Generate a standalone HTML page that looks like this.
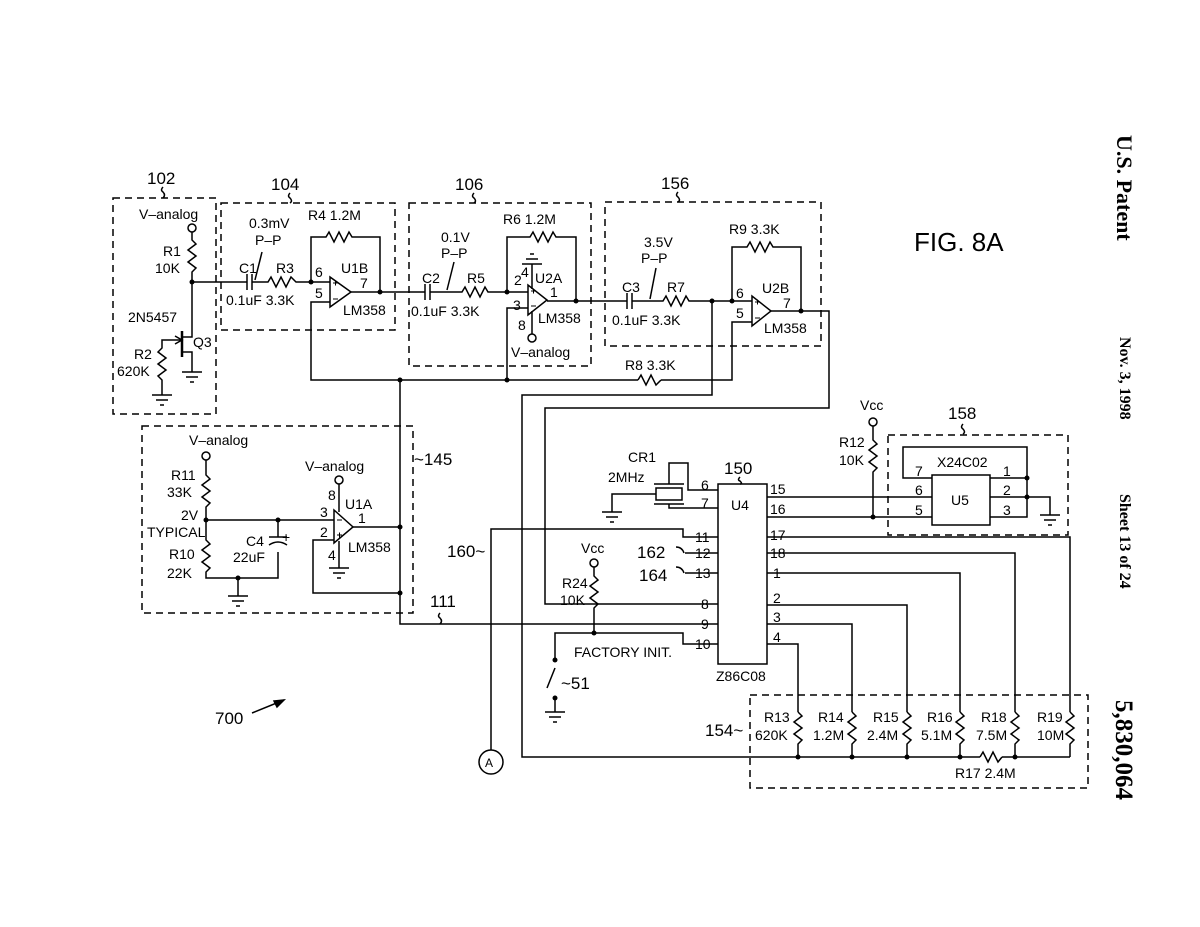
<!DOCTYPE html>
<html><head><meta charset="utf-8"><style>
html,body{margin:0;padding:0;background:#fff;}
svg{display:block;}
text{font-family:"Liberation Sans",sans-serif;font-size:14px;fill:#000;}
.b{font-size:17px;}
.p{font-size:10px;}
.s{font-family:"Liberation Serif",serif;font-weight:bold;}
</style></head><body>
<svg width="1200" height="927" viewBox="0 0 1200 927" xmlns="http://www.w3.org/2000/svg">
<g fill="none" stroke="#000" stroke-width="1.5">
<g stroke-dasharray="7,5">
<rect x="113" y="198" width="103" height="216"/>
<rect x="221" y="203" width="174" height="127"/>
<rect x="409" y="203" width="182" height="163"/>
<rect x="605" y="202" width="216" height="144"/>
<rect x="142" y="426" width="271" height="187"/>
<rect x="888" y="435" width="180" height="100"/>
<rect x="750" y="695" width="338" height="93"/>
</g>
<circle cx="192" cy="228" r="4"/>
<polyline points="192,232 192,240 196,244 188,250 196,256 188,262 196,268 192,272 192,337 182,337"/>
<line x1="182" y1="331" x2="182" y2="357" stroke-width="2.5"/>
<polyline points="182,352 192,352 192,372"/>
<polyline points="162,395 162,380 158,376 166,370 158,364 166,358 158,352 162,348 162,340 182,340"/>
<polyline points="175,336 182,340 175,344"/>
<path d="M182,372h20M186,377h12M190,382h4"/>
<path d="M152,395h20M156,400h12M160,405h4"/>
<line x1="192" y1="282" x2="247" y2="282"/>
<path d="M247,274v16M252,274v16"/>
<polyline points="252,282 268,282 271,277 276,287 281,277 286,287 291,277 296,282 330,282"/>
<line x1="255" y1="280" x2="262" y2="252"/>
<polygon points="330,277 330,307 351,292"/>
<polyline points="311,282 311,237 326,237 329,232 334,242 339,232 344,242 349,232 352,237 380,237 380,292"/>
<polyline points="330,302 311,302 311,380 638,380"/>
<polyline points="661,380 732,380 732,322 752,322"/>
<polyline points="638,380 641,375 646,385 651,375 656,385 661,380"/>
<line x1="351" y1="292" x2="425" y2="292"/>
<path d="M425,284v16M430,284v16"/>
<polyline points="430,292 462,292 465,287 470,297 475,287 480,297 485,287 488,292 528,292"/>
<line x1="447" y1="290" x2="454" y2="262"/>
<polygon points="528,285 528,315 547,300"/>
<polyline points="507,292 507,237 530,237 533,232 538,242 543,232 548,242 553,232 556,237 576,237 576,301"/>
<polyline points="528,308 507,308 507,380"/>
<polyline points="532,289 532,264"/>
<path d="M522,264h20M526,259h12M530,254h4"/>
<line x1="532" y1="311" x2="532" y2="334"/>
<circle cx="532" cy="338" r="4"/>
<polyline points="547,301 627,301"/>
<path d="M627,293v16M632,293v16"/>
<polyline points="632,301 663,301 666,296 671,306 676,296 681,306 686,296 689,301 752,301"/>
<line x1="650" y1="299" x2="656" y2="268"/>
<polygon points="752,296 752,326 771,311"/>
<polyline points="732,301 732,247 747,247 750,242 755,252 760,242 765,252 770,242 773,247 801,247 801,311"/>
<polyline points="771,311 829,311 829,408 545,408 545,604 718,604"/>
<polyline points="712,301 712,395 522,395 522,757 1070,757"/>
<circle cx="206" cy="456" r="4"/>
<polyline points="206,460 206,475 210,479 202,485 210,491 202,497 210,503 206,507 206,540 210,544 202,550 210,556 202,562 210,568 206,572 206,578 278,578 278,552"/>
<path d="M269,545q9,-6 18,0" />
<line x1="269" y1="537" x2="287" y2="537"/>
<polyline points="206,520 334,520"/>
<line x1="278" y1="520" x2="278" y2="537"/>
<line x1="238" y1="578" x2="238" y2="596"/>
<path d="M228,596h20M232,601h12M236,606h4"/>
<polygon points="334,510 334,543 353,527"/>
<line x1="339" y1="512" x2="339" y2="484"/>
<circle cx="339" cy="480" r="4"/>
<line x1="339" y1="541" x2="339" y2="568"/>
<path d="M329,568h20M333,573h12M337,578h4"/>
<polyline points="334,540 313,540 313,593 400,593"/>
<polyline points="353,527 400,527"/>
<polyline points="400,380 400,624 718,624"/>
<rect x="718" y="484" width="49" height="180"/>
<rect x="656" y="488" width="26" height="12"/>
<path d="M654,484h30M654,504h30"/>
<polyline points="669,484 669,463 688,463 688,490 718,490"/>
<polyline points="669,504 669,508 718,508"/>
<polyline points="656,494 612,494 612,512"/>
<path d="M602,512h20M606,517h12M610,522h4"/>
<polyline points="718,537 683,537 683,529 491,529 491,750"/>
<circle cx="491" cy="762" r="12"/>
<polyline points="685,553 718,553"/>
<polyline points="685,573 718,573"/>
<path d="M676,547q6,0 8,6M676,567q6,0 8,6"/>
<polyline points="718,644 683,644 683,633 555,633 555,660"/>
<line x1="555" y1="668" x2="547" y2="688"/>
<line x1="555" y1="698" x2="555" y2="712"/>
<path d="M545,712h20M549,717h12M553,722h4"/>
<circle cx="594" cy="563" r="4"/>
<polyline points="594,567 594,576 598,580 590,586 598,592 590,598 598,604 594,608 594,633"/>
<polyline points="767,497 932,497"/>
<polyline points="767,517 932,517"/>
<circle cx="873" cy="422" r="4"/>
<polyline points="873,426 873,440 877,444 869,450 877,456 869,462 877,468 873,472 873,517"/>
<rect x="932" y="475" width="58" height="50"/>
<polyline points="932,478 903,478 903,447 1027,447 1027,517 990,517"/>
<polyline points="990,478 1027,478"/>
<polyline points="990,497 1050,497 1050,515"/>
<path d="M1040,515h20M1044,520h12M1048,525h4"/>
<polyline points="767,537 1070,537 1070,712"/>
<polyline points="767,553 1015,553 1015,712"/>
<polyline points="767,573 960,573 960,712"/>
<polyline points="767,605 907,605 907,712"/>
<polyline points="767,624 852,624 852,712"/>
<polyline points="767,644 798,644 798,712"/>
<polyline points="798,712 802,716 794,722 802,728 794,734 802,740 798,744 798,757"/>
<polyline points="852,712 856,716 848,722 856,728 848,734 856,740 852,744 852,757"/>
<polyline points="907,712 911,716 903,722 911,728 903,734 911,740 907,744 907,757"/>
<polyline points="960,712 964,716 956,722 964,728 956,734 964,740 960,744 960,757"/>
<polyline points="1015,712 1019,716 1011,722 1019,728 1011,734 1019,740 1015,744 1015,757"/>
<polyline points="1070,712 1074,716 1066,722 1074,728 1066,734 1074,740 1070,744 1070,757"/>
<line x1="980" y1="757" x2="1002" y2="757" stroke="#fff" stroke-width="3"/>
<polyline points="980,757 983,752 988,762 993,752 998,762 1002,757"/>
<path d="M163,187q-3,3 0,5q3,3 0,6M290,193q-3,3 0,5q3,3 0,5M474,193q-3,3 0,5q3,3 0,5M678,192q-3,3 0,5q3,3 0,5M963,424q-3,3 0,5q3,3 0,5M740,477q-3,3 0,4q3,3 0,3M440,613q-3,3 0,5q3,3 0,6"/>
<line x1="252" y1="713" x2="284" y2="700"/>
<polygon points="284,700 274,701 277,707" fill="#000"/>
<!-- +/- marks -->
<path d="M333,283h5M335.5,280.5v5M333,299h5" stroke-width="1"/>
<path d="M531,291h5M533.5,288.5v5M531,306h5" stroke-width="1"/>
<path d="M755,302h5M757.5,299.5v5M755,318h5" stroke-width="1"/>
<path d="M337,520h5M337,535h5M339.5,532.5v5" stroke-width="1"/>
</g>
<g fill="#000">
<circle cx="192" cy="282" r="2.5"/><circle cx="311" cy="282" r="2.5"/><circle cx="380" cy="292" r="2.5"/>
<circle cx="507" cy="292" r="2.5"/><circle cx="576" cy="301" r="2.5"/><circle cx="712" cy="301" r="2.5"/>
<circle cx="732" cy="301" r="2.5"/><circle cx="801" cy="311" r="2.5"/><circle cx="400" cy="380" r="2.5"/>
<circle cx="507" cy="380" r="2.5"/><circle cx="206" cy="520" r="2.5"/><circle cx="278" cy="520" r="2.5"/>
<circle cx="238" cy="578" r="2.5"/><circle cx="400" cy="527" r="2.5"/><circle cx="400" cy="593" r="2.5"/>
<circle cx="594" cy="633" r="2.5"/><circle cx="555" cy="660" r="2.5"/><circle cx="555" cy="698" r="2.5"/>
<circle cx="873" cy="517" r="2.5"/><circle cx="1027" cy="478" r="2.5"/><circle cx="1027" cy="497" r="2.5"/>
<circle cx="798" cy="757" r="2.5"/><circle cx="852" cy="757" r="2.5"/><circle cx="907" cy="757" r="2.5"/>
<circle cx="960" cy="757" r="2.5"/><circle cx="1015" cy="757" r="2.5"/>
</g>
<text x="147" y="184" class="b">102</text>
<text x="271" y="190" class="b">104</text>
<text x="455" y="190" class="b">106</text>
<text x="661" y="189" class="b">156</text>
<text x="948" y="419" class="b">158</text>
<text x="724" y="474" class="b">150</text>
<text x="139" y="219">V–analog</text>
<text x="163" y="256">R1</text>
<text x="155" y="273">10K</text>
<text x="128" y="322">2N5457</text>
<text x="193" y="347">Q3</text>
<text x="134" y="359">R2</text>
<text x="117" y="376">620K</text>
<text x="249" y="228">0.3mV</text>
<text x="255" y="245">P–P</text>
<text x="308" y="220">R4  1.2M</text>
<text x="239" y="273">C1</text>
<text x="276" y="273">R3</text>
<text x="226" y="305">0.1uF 3.3K</text>
<text x="315" y="277">6</text>
<text x="315" y="298">5</text>
<text x="341" y="273">U1B</text>
<text x="360" y="288">7</text>
<text x="343" y="315">LM358</text>
<text x="441" y="242">0.1V</text>
<text x="441" y="258">P–P</text>
<text x="503" y="224">R6  1.2M</text>
<text x="422" y="283">C2</text>
<text x="467" y="283">R5</text>
<text x="411" y="316">0.1uF  3.3K</text>
<text x="514" y="285">2</text><text x="521" y="277">4</text>
<text x="535" y="283">U2A</text>
<text x="550" y="297">1</text>
<text x="513" y="310">3</text>
<text x="518" y="330">8</text>
<text x="538" y="323">LM358</text>
<text x="511" y="357">V–analog</text>
<text x="644" y="247">3.5V</text>
<text x="641" y="263">P–P</text>
<text x="729" y="234">R9  3.3K</text>
<text x="622" y="292">C3</text>
<text x="667" y="292">R7</text>
<text x="612" y="325">0.1uF  3.3K</text>
<text x="736" y="298">6</text>
<text x="736" y="318">5</text>
<text x="762" y="293">U2B</text>
<text x="783" y="308">7</text>
<text x="764" y="333">LM358</text>
<text x="625" y="370">R8  3.3K</text>
<text x="914" y="251" style="font-size:26px">FIG.  8A</text>
<text x="189" y="445">V–analog</text>
<text x="171" y="480">R11</text>
<text x="167" y="497">33K</text>
<text x="181" y="520">2V</text>
<text x="147" y="537">TYPICAL</text>
<text x="169" y="559">R10</text>
<text x="167" y="578">22K</text>
<text x="246" y="546">C4</text>
<text x="233" y="562">22uF</text>
<text x="282" y="542">+</text>
<text x="305" y="471">V–analog</text>
<text x="328" y="500">8</text>
<text x="345" y="509">U1A</text>
<text x="320" y="517">3</text>
<text x="320" y="537">2</text>
<text x="358" y="523">1</text>
<text x="328" y="560">4</text>
<text x="348" y="552">LM358</text>
<text x="414" y="465" class="b">~145</text>
<text x="430" y="607" class="b">111</text>
<text x="447" y="557" class="b">160~</text>
<text x="215" y="724" class="b">700</text>
<text x="628" y="462">CR1</text>
<text x="608" y="482">2MHz</text>
<text x="701" y="490">6</text>
<text x="701" y="508">7</text>
<text x="731" y="510">U4</text>
<text x="695" y="542">11</text>
<text x="695" y="558">12</text>
<text x="695" y="578">13</text>
<text x="701" y="609">8</text>
<text x="701" y="629">9</text>
<text x="695" y="649">10</text>
<text x="637" y="558" class="b">162</text>
<text x="639" y="581" class="b">164</text>
<text x="581" y="553">Vcc</text>
<text x="562" y="588">R24</text>
<text x="560" y="605">10K</text>
<text x="574" y="657">FACTORY  INIT.</text>
<text x="561" y="689" class="b">~51</text>
<text x="716" y="681">Z86C08</text>
<text x="770" y="494">15</text>
<text x="770" y="514">16</text>
<text x="770" y="540">17</text>
<text x="770" y="558">18</text>
<text x="773" y="578">1</text>
<text x="773" y="603">2</text>
<text x="773" y="622">3</text>
<text x="773" y="642">4</text>
<text x="860" y="410">Vcc</text>
<text x="839" y="447">R12</text>
<text x="839" y="465">10K</text>
<text x="937" y="467">X24C02</text>
<text x="915" y="476">7</text>
<text x="915" y="495">6</text>
<text x="915" y="515">5</text>
<text x="951" y="505">U5</text>
<text x="1003" y="476">1</text>
<text x="1003" y="495">2</text>
<text x="1003" y="515">3</text>
<text x="705" y="736" class="b">154~</text>
<text x="764" y="722">R13</text><text x="755" y="740">620K</text>
<text x="818" y="722">R14</text><text x="813" y="740">1.2M</text>
<text x="873" y="722">R15</text><text x="867" y="740">2.4M</text>
<text x="927" y="722">R16</text><text x="921" y="740">5.1M</text>
<text x="981" y="722">R18</text><text x="976" y="740">7.5M</text>
<text x="1037" y="722">R19</text><text x="1037" y="740">10M</text>
<text x="955" y="778">R17  2.4M</text>
<text x="485" y="767" style="font-size:12px">A</text>
<g transform="translate(1117,135) rotate(90)"><text class="s" style="font-size:22px">U.S. Patent</text></g>
<g transform="translate(1120,337) rotate(90)"><text class="s" style="font-size:16px">Nov. 3, 1998</text></g>
<g transform="translate(1120,494) rotate(90)"><text class="s" style="font-size:16px">Sheet 13 of 24</text></g>
<g transform="translate(1116,700) rotate(90)"><text class="s" style="font-size:25px">5,830,064</text></g>
</svg>
</body></html>
